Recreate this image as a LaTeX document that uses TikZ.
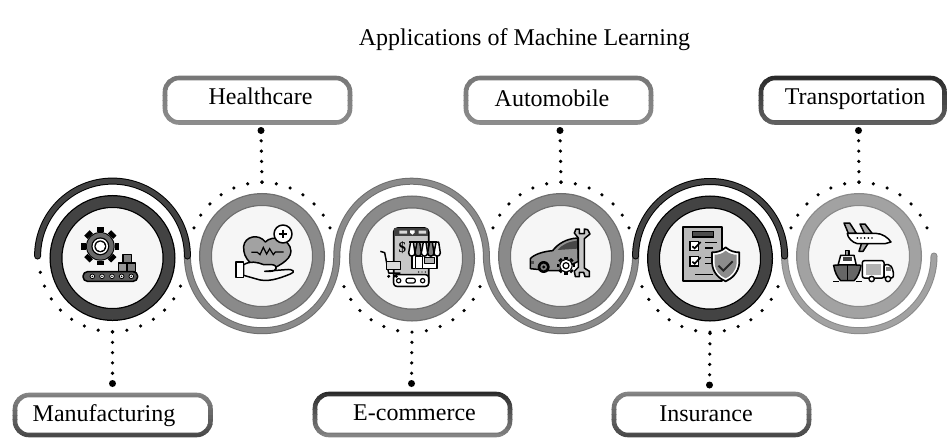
\documentclass[tikz,border=0pt]{standalone}
\usepackage{fontspec}
\setmainfont{Liberation Serif}
\definecolor{gdark}{HTML}{434343}
\definecolor{gmid}{HTML}{8A8A8A}
\definecolor{gedge}{HTML}{6E6E6E}
\definecolor{glite}{HTML}{A2A2A2}
\definecolor{gface}{HTML}{F6F6F6}
\definecolor{bxa}{HTML}{777777}
\definecolor{bxb}{HTML}{8C8C8C}
\definecolor{bxc}{HTML}{2A2A2A}
\definecolor{bxd}{HTML}{606060}
\definecolor{bxe}{HTML}{858585}
\definecolor{bxf}{HTML}{484848}
\tikzset{
  ringnode/.style 2 args={circle,inner sep=0pt,minimum size=113pt,fill=gface,draw=#2,line width=13pt,
     postaction={draw=#1,line width=10.5pt}},
  wave/.style 2 args={draw=#2,line width=7pt,postaction={draw=#1,line width=5pt}},
  rdot/.style={circle,fill=black,inner sep=0pt,minimum size=3.6pt},
  bigdot/.style={circle,fill=black,inner sep=0pt,minimum size=7pt},
  dotline/.style={line width=3.6pt,line cap=round,dash pattern=on 0pt off 10.3pt,draw=black},
  lbl/.style={anchor=base,font=\fontsize{24}{24}\selectfont,inner sep=0pt},
  boxnode/.style={inner sep=0pt,fill=white,rounded corners=14pt},
  ic/.style={draw=black,line width=1.5pt,line join=round},
}
% name, left, top, right, bottom, top colour, bottom colour
\newcommand{\gbox}[7]{%
  \node[boxnode,minimum width={#4-#2},minimum height={#5-#3}] (#1) at ({(#2+#4)/2},{(#3+#5)/2}) {};
  \foreach \i in {0,...,9}{%
    \pgfmathtruncatemacro{\mixp}{100-\i*11}%
    \begin{scope}
      \clip ({#2-5},{#3-4+\i*(#5-#3+8)/10}) rectangle ({#4+5},{#3-4+(\i+1)*(#5-#3+8)/10});
      \draw[line width=4.6pt,rounded corners=14pt,draw=#6!\mixp!#7] (#2,#3) rectangle (#4,#5);
    \end{scope}}%
}
% gear teeth and body
\newcommand{\gearicon}[4]{%
  \foreach \a in {0,45,...,315}{%
    \fill[black,rotate around={\a:(#1,#2)}] ({#1-#3*.2},{#2-#3}) rectangle ({#1+#3*.2},{#2-#4});}
  \fill[black] (#1,#2) circle[radius=#4];
}
\begin{document}
\begin{tikzpicture}[x=1pt,y=-1pt]
\useasboundingbox (0,0) rectangle (947,437);
\fill[white] (0,0) rectangle (947,437);

\node[lbl] (title) at (524.5,45) {Applications of Machine Learning};

% serpentine
\coordinate (j0) at (37.6,256);
\coordinate (j1) at (187.4,256);
\coordinate (j2) at (336.8,256);
\coordinate (j3) at (486.4,256);
\coordinate (j4) at (635.6,256);
\coordinate (j5) at (784.6,256);
\coordinate (j6) at (934,256);
\draw[wave={gmid}{gedge}] (j1) arc[start angle=180,end angle=0,radius=74.7];
\draw[wave={gmid}{gedge}] (j2) arc[start angle=180,end angle=360,radius=74.8];
\draw[wave={gmid}{gedge}] (j3) arc[start angle=180,end angle=0,radius=74.6];
\draw[wave={glite}{gmid},line cap=round] (j6) arc[start angle=0,end angle=180,radius=74.7];
\draw[wave={gdark}{black},line cap=round] (j0) arc[start angle=180,end angle=360,radius=74.9];
\draw[wave={gdark}{black},line cap=round] (j4) arc[start angle=180,end angle=360,radius=74.5];

% rings
\node[ringnode={gdark}{black}] (c1) at (112.5,258) {};
\node[ringnode={gmid}{gedge}] (c2) at (262,256) {};
\node[ringnode={gmid}{gedge}] (c3) at (412,258.5) {};
\node[ringnode={gmid}{gedge}] (c4) at (561,256) {};
\node[ringnode={gdark}{black}] (c5) at (710,258.5) {};
\node[ringnode={glite}{gmid}] (c6) at (859,256) {};

% ring dots
\foreach \c/\cx/\cy/\s/\kk in {1/112.5/258/1/-7,2/262/256/-1/-6,3/412/258.5/1/-6,4/561/256/-1/-6,5/710/258.5/1/-6,6/859/256/-1/-6}{
  \foreach \k in {\kk,...,6}{
    \node[rdot] at ({\cx+73.6*sin(\k*11.25)},{\cy+\s*73.6*cos(\k*11.25)}) {};
  }
}
\coordinate (r1) at (112.5,331.6);
\coordinate (r2) at (262,182.4);
\coordinate (r3) at (412,332.1);
\coordinate (r4) at (561,182.4);
\coordinate (r5) at (710,332.1);
\coordinate (r6) at (859,182.4);

% boxes
\gbox{b2}{165}{78}{350}{122.5}{bxa}{bxb}
\gbox{b4}{466}{78}{651}{122.5}{bxa}{bxb}
\gbox{b6}{761}{78}{944.5}{122.5}{bxc}{bxd}
\gbox{b1}{15}{395}{210.5}{435}{bxe}{bxf}
\gbox{b3}{315}{394}{510}{435}{bxc}{bxe}
\gbox{b5}{614}{394}{809}{435}{bxe}{bxf}

\node[lbl] (t2) at (260.5,104) {Healthcare};
\node[lbl] (t4) at (552,106) {Automobile};
\node[lbl] (t6) at (855,104) {Transportation};
\node[lbl] (t1) at (104,421) {Manufacturing};
\node[lbl] (t3) at (414.5,420) {E-commerce};
\node[lbl] (t5) at (706,421) {Insurance};

% connectors
\node[bigdot] (d1) at (112.5,383.5) {};
\node[bigdot] (d2) at (261,130.5) {};
\node[bigdot] (d3) at (411.5,383.5) {};
\node[bigdot] (d4) at (560,130.5) {};
\node[bigdot] (d5) at (709.5,385) {};
\node[bigdot] (d6) at (858.5,130.5) {};
\foreach \i in {1,...,6}{ \draw[dotline] (d\i.center) -- (r\i); }

% --- icon 1: manufacturing
\begin{scope}[shift={(72,218)},x=.3333pt,y=-.3333pt]
  \gearicon{85}{85}{57}{43}
  \fill[gdark!80!white] (85,85) circle[radius=40];
  \fill[black] (85,85) circle[radius=27];
  \fill[white] (85,85) circle[radius=23];
  \fill[black] (85,85) circle[radius=18];
  \fill[white] (85,85) circle[radius=14];
  \draw[ic,fill=gray] (153,110) rectangle (178,135);
  \draw[ic,fill=gray!80] (140,135) rectangle (165,160);
  \draw[ic,fill=gray] (165,135) rectangle (190,160);
  \draw[ic,fill=gray!70!black,rounded corners=4.5pt] (33,161) rectangle (197,190);
  \foreach \x in {61,90,120,149,178}{\draw[black,line width=.8pt,fill=white] (\x,175) circle[radius=7];\fill[black] (\x,175) circle[radius=2.5];}
\end{scope}

% --- icon 2: healthcare
\begin{scope}[shift={(222,218)},x=.3333pt,y=-.3333pt]
  \draw[ic,fill=glite] (128,165) .. controls (95,145) and (62,125) .. (65,85)
     .. controls (68,55) and (110,45) .. (130,72)
     .. controls (150,50) and (205,60) .. (207,100)
     .. controls (205,130) and (165,145) .. (128,165) -- cycle;
  \draw[black,line width=1.2pt] (88,103) -- (106,103) -- (114,110) -- (124,88) -- (134,108) -- (143,92) -- (154,110) -- (160,102) -- (185,102);
  \draw[ic,fill=gface] (65,140) .. controls (85,128) and (105,132) .. (125,140) -- (150,140)
     .. controls (170,142) and (165,160) .. (145,160) -- (128,160)
     -- (190,155) .. controls (215,152) and (222,162) .. (205,168)
     .. controls (170,182) and (135,195) .. (100,182) -- (65,172) -- cycle;
  \draw[ic,fill=white] (42,132) rectangle (65,178);
  \draw[ic,fill=white] (183,48) circle[radius=27];
  \draw[black,line width=1.8pt] (170,48) -- (196,48) (183,35) -- (183,61);
\end{scope}

% --- icon 3: e-commerce
\begin{scope}[shift={(372,218)},x=.3333pt,y=-.3333pt]
  \draw[ic,line width=1.7pt,fill=gray!45,rounded corners=4pt] (65,30) rectangle (170,205);
  \fill[black!75] (66,31) rectangle (169,54);
  \fill[white!85!black] (82,38) rectangle (105,47) (140,38) rectangle (162,47);
  \fill[white] (114,37) -- (128,37) -- (128,44) -- (121,50) -- (114,44) -- cycle;
  \draw[ic,fill=white,rounded corners=3pt] (65,170) rectangle (170,205);
  \draw[black,line width=1.2pt] (80,188) circle[radius=6.5] (152,188) circle[radius=6.5];
  \draw[black,line width=1.2pt,rounded corners=2pt] (102,181) rectangle (130,195);
  \node[inner sep=0pt,font=\bfseries\fontsize{15}{15}\selectfont] (dollar) at (91,90) {\$};
  \foreach \x in {140,150,160}{\fill[black] (\x,162) circle[radius=2.2];}
  \draw[ic,fill=white] (120,105) rectangle (195,152);
  \draw[ic,fill=white] (130,115) rectangle (151,152);
  \draw[ic,fill=gray!60] (158,118) rectangle (188,136);
  \foreach \x/\f in {110/white,129/gray,148/white,167/gray,186/white}{
    \draw[ic,fill=\f] (\x,105) -- ({\x+6},72) -- ({\x+14},72) -- ({\x+19},105) arc[start angle=0,end angle=180,radius=9.5] -- cycle;}
  \draw[ic] (112,72) -- (195,72);
  \draw[ic] (25,100) -- (38,104) -- (50,165) -- (85,165);
  \draw[ic,fill=gray!30] (44,130) rectangle (85,154);
  \fill[black] (50,175) circle[radius=5] (73,175) circle[radius=5];
\end{scope}

% --- icon 4: automobile
\begin{scope}[shift={(521,218)},x=.3333pt,y=-.3333pt]
  \draw[ic,fill=gray!85] (28,152) -- (28,122) .. controls (40,108) and (70,100) .. (95,98)
     .. controls (110,78) and (135,62) .. (170,60) -- (172,130) -- (115,158) -- (85,158) -- cycle;
  \fill[black!72] (110,96) .. controls (122,80) and (145,70) .. (168,68) -- (168,92) -- cycle;
  \fill[black] (68,147) circle[radius=18];
  \fill[gray] (68,147) circle[radius=10];
  \fill[black] (68,147) circle[radius=5];
  \fill[black!70] (30,130) rectangle (40,138);
  \gearicon{135}{143}{27}{20}
  \fill[white] (135,143) circle[radius=17];
  \draw[black,line width=1.2pt] (135,143) circle[radius=9];
  \draw[ic,fill=gray!45] (172,60) -- (160,45) -- (165,33) -- (175,33) -- (175,47) -- (190,47) -- (190,33) -- (200,35) -- (207,48) -- (190,62) -- (190,150)
     -- (205,160) -- (205,176) -- (192,176) -- (188,163) -- (175,163) -- (175,176) -- (163,176) -- (160,160) -- (172,148) -- cycle;
\end{scope}

% --- icon 5: insurance
\begin{scope}[shift={(670,218)},x=.3333pt,y=-.3333pt]
  \draw[ic,line width=1.7pt,fill=gray!55] (40,27) rectangle (155,190);
  \draw[black,line width=1.2pt,fill=black!70] (68,41) rectangle (130,57);
  \foreach \y in {70,116}{
    \draw[black,line width=1.2pt,fill=white] (60,\y) rectangle (85,{\y+28});
    \draw[black,line width=1.7pt] (67,{\y+15}) -- (74,{\y+21}) -- (92,{\y+2});}
  \draw[black,line width=1.4pt] (105,73) -- (142,73) (105,90) -- (130,90) (105,118) -- (130,118) (105,136) -- (125,136) (75,170) -- (130,170);
  \draw[ic,line width=1.7pt,fill=white] (167,88) .. controls (180,100) and (195,103) .. (208,103)
     -- (208,135) .. controls (205,165) and (185,182) .. (167,190)
     .. controls (148,182) and (128,165) .. (126,135) -- (126,103)
     .. controls (140,103) and (155,100) .. (167,88) -- cycle;
  \fill[gray!90] (167,98) .. controls (178,108) and (190,110) .. (200,110)
     -- (200,135) .. controls (198,160) and (182,174) .. (167,181)
     .. controls (150,174) and (135,160) .. (134,135) -- (134,110)
     .. controls (145,110) and (157,108) .. (167,98) -- cycle;
  \draw[black!85,line width=1.9pt] (145,143) -- (160,158) -- (188,130);
\end{scope}

% --- icon 6: transportation
\begin{scope}[shift={(819,218)},x=.3333pt,y=-.3333pt]
  \draw[ic,fill=gray!70] (75,15) -- (92,15) -- (112,46) -- (88,46) -- cycle;
  \draw[ic,fill=gray!70] (123,18) -- (138,18) -- (162,50) -- (138,50) -- cycle;
  \draw[ic,fill=gray!70] (148,75) -- (132,100) -- (120,100) -- (128,75) -- cycle;
  \draw[ic,fill=white] (85,46) -- (170,46) .. controls (190,46) and (208,60) .. (216,72)
     -- (198,77) -- (115,77) .. controls (100,74) and (85,58) .. (85,46) -- cycle;
  \foreach \x in {115,126,137,148,159}{\fill[black] (\x,60) circle[radius=2.8];}
  \draw[ic,fill=gray!80] (80,98) rectangle (90,112);
  \draw[ic,fill=white] (65,112) -- (105,112) -- (112,142) -- (57,142) -- cycle;
  \fill[black!75] (72,118) rectangle (100,128);
  \draw[ic,fill=black!60] (44,142) .. controls (60,140) and (110,140) .. (126,142)
     .. controls (124,160) and (116,178) .. (105,188) -- (65,188) .. controls (55,178) and (46,160) .. (44,142) -- cycle;
  \draw[black,line width=1.2pt] (85,141) -- (85,188);
  \draw[black,line width=1.2pt] (42,190) -- (60,190) (110,190) -- (128,190);
  \draw[ic,fill=white,rounded corners=2pt] (130,128) rectangle (195,180);
  \fill[gray!60] (140,138) rectangle (185,170);
  \draw[ic,fill=white,rounded corners=2pt] (195,140) -- (214,140) -- (223,158) -- (223,180) -- (195,180) -- cycle;
  \fill[gray] (202,148) rectangle (215,160);
  \draw[black,line width=1.4pt,fill=white] (158,183) circle[radius=8];
  \draw[black,line width=1.4pt,fill=white] (207,183) circle[radius=8];
\end{scope}
\end{tikzpicture}
\end{document}
